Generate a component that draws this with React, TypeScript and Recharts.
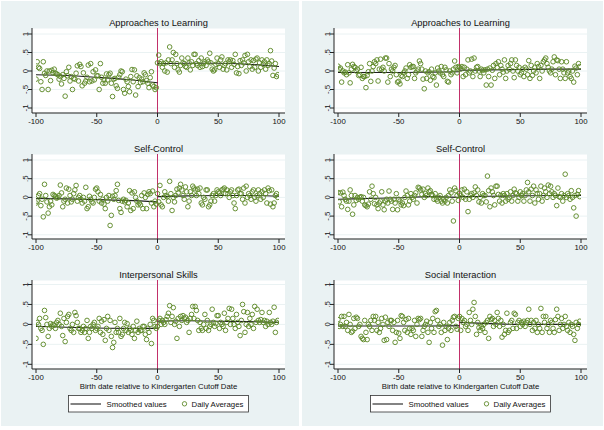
import React from "react";
import {
  ComposedChart,
  Scatter,
  Line,
  XAxis,
  YAxis,
  CartesianGrid,
  ReferenceLine,
} from "recharts";

// days before / after the cutoff
const daysBefore = Array.from({ length: 100 }, (_, i) => i - 100);
const daysAfter = Array.from({ length: 100 }, (_, i) => i);
const smoothDaysBefore = [-100, -75, -50, -25, 0];
const smoothDaysAfter = [0, 25, 50, 75, 100];

const xTicks = [-100, -50, 0, 50, 100];
const yTicks = [-1, -0.5, 0, 0.5, 1];

// left column: Approaches to Learning
const learnALeft = [
  -0.22, 0.25, 0.1, 0.07, -0.29, -0.5, 0.25, -0.06, -0.12, 0.0,
  -0.5, 0.0, -0.26, 0.02, -0.05, 0.05, -0.06, -0.08, -0.1, -0.22,
  -0.15, -0.35, -0.1, -0.2, -0.68, -0.02, -0.13, 0.1, -0.27, -0.15,
  -0.5, -0.2, -0.22, -0.06, 0.14, -0.27, 0.18, 0.12, -0.4, -0.05,
  -0.33, -0.27, -0.17, 0.16, -0.29, 0.2, -0.27, -0.02, -0.24, 0.03,
  -0.13, -0.13, -0.5, 0.2, -0.17, -0.33, -0.24, -0.33, -0.08, -0.24,
  -0.1, -0.06, -0.33, -0.69, -0.22, -0.2, -0.4, -0.47, -0.17, -0.1,
  0.0, -0.02, -0.5, -0.6, -0.22, -0.29, -0.42, -0.56, -0.15, 0.04,
  -0.29, 0.03, -0.65, -0.13, -0.42, -0.18, -0.31, -0.22, -0.29, -0.05,
  -0.1, -0.26, -0.33, -0.45, -0.18, -0.02, -0.38, -0.42, -0.5, -0.45,
];
const learnARight = [
  0.22, 0.43, 0.2, 0.25, 0.1, 0.2, 0.0, 0.22, -0.03, 0.3,
  0.65, 0.2, 0.3, 0.5, 0.1, 0.45, 0.2, 0.03, -0.03, 0.15,
  0.35, 0.22, 0.2, 0.12, 0.1, 0.35, 0.22, 0.03, 0.25, 0.15,
  0.45, 0.45, 0.2, 0.15, 0.28, 0.1, 0.35, 0.12, 0.2, 0.25,
  0.15, 0.3, 0.25, 0.48, 0.22, 0.05, 0.0, 0.03, 0.18, 0.35,
  0.2, 0.1, 0.3, 0.38, 0.05, 0.15, 0.2, 0.03, 0.3, 0.25,
  0.3, 0.1, 0.28, 0.18, 0.45, -0.05, 0.12, -0.07, 0.28, 0.15,
  0.3, 0.22, 0.42, 0.0, 0.45, 0.25, 0.12, 0.3, 0.05, 0.28,
  0.1, 0.32, 0.35, 0.0, 0.22, 0.1, 0.3, 0.18, 0.25, 0.05,
  0.3, 0.15, 0.2, 0.55, 0.27, -0.12, 0.08, 0.2, -0.15, -0.1,
];
const learnASmoothLeft = [-0.1, -0.12, -0.17, -0.23, -0.32];
const learnASmoothRight = [0.2, 0.21, 0.21, 0.18, 0.12];

// right column: Approaches to Learning
const learnBLeft = [
  0.13, 0.05, 0.08, -0.3, 0.0, -0.05, -0.03, -0.1, 0.17, -0.05,
  -0.32, 0.05, 0.18, 0.12, 0.1, 0.0, 0.05, -0.12, -0.1, 0.1,
  -0.2, -0.15, -0.15, -0.45, -0.12, -0.02, 0.2, -0.28, 0.0, 0.12,
  0.25, 0.2, 0.3, -0.27, 0.05, 0.32, 0.05, 0.1, 0.0, 0.35,
  0.35, -0.3, 0.2, -0.15, 0.05, 0.0, 0.1, 0.15, -0.1, -0.3,
  -0.28, -0.35, -0.12, -0.15, -0.05, 0.0, 0.08, -0.2, -0.1, 0.17,
  0.1, 0.12, 0.12, -0.2, -0.05, 0.0, 0.05, 0.27, 0.2, 0.05,
  -0.22, -0.48, 0.0, -0.2, -0.05, -0.02, -0.25, 0.05, -0.15, -0.18,
  -0.05, -0.38, 0.08, 0.0, -0.05, 0.12, -0.1, -0.15, 0.1, 0.03,
  -0.28, -0.3, 0.0, -0.1, -0.05, 0.05, 0.27, 0.1, -0.05, 0.12,
];
const learnBRight = [
  0.1, 0.05, 0.12, -0.15, 0.1, -0.1, 0.05, 0.3, -0.05, 0.0,
  0.32, -0.15, 0.35, 0.0, 0.1, 0.12, 0.0, -0.15, 0.05, 0.02,
  -0.05, 0.03, -0.38, 0.05, -0.15, 0.08, -0.38, 0.02, 0.15, -0.2,
  0.2, 0.1, 0.25, -0.1, 0.15, 0.05, -0.03, 0.3, -0.2, 0.0,
  0.15, 0.05, 0.2, 0.3, 0.0, -0.18, 0.3, 0.15, 0.0, 0.1,
  -0.1, -0.05, 0.05, -0.15, 0.1, 0.05, -0.1, 0.28, -0.2, 0.15,
  -0.12, 0.0, 0.1, -0.05, 0.2, 0.12, -0.2, 0.15, 0.0, 0.25,
  0.3, 0.35, 0.2, 0.1, 0.0, -0.05, 0.05, 0.25, 0.38, -0.1,
  0.3, 0.28, 0.05, -0.2, 0.25, 0.05, -0.05, -0.2, 0.25, -0.05,
  0.0, -0.15, -0.2, 0.0, -0.3, 0.13, 0.08, -0.1, 0.2, 0.12,
];
const learnBSmoothLeft = [-0.04, -0.04, -0.04, -0.03, -0.02];
const learnBSmoothRight = [0.02, 0.03, 0.04, 0.05, 0.05];

// left column: Self-Control
const controlALeft = [
  -0.15, -0.1, 0.05, 0.1, -0.22, -0.05, -0.52, 0.35, 0.05, -0.12,
  -0.42, -0.25, -0.1, -0.2, 0.08, 0.05, 0.03, -0.02, 0.0, 0.05,
  0.33, 0.12, -0.25, -0.1, -0.05, 0.25, -0.15, 0.22, 0.05, -0.12,
  -0.05, 0.1, 0.2, 0.32, -0.1, 0.0, 0.05, -0.05, -0.15, 0.0,
  -0.1, 0.27, -0.3, -0.25, 0.03, -0.05, -0.12, -0.15, 0.0, 0.22,
  0.25, 0.15, -0.1, 0.08, -0.15, -0.05, -0.18, -0.3, 0.0, -0.1,
  0.05, -0.75, -0.48, 0.03, -0.05, 0.05, 0.18, 0.35, -0.08, -0.3,
  -0.4, -0.1, -0.05, -0.12, -0.08, -0.25, -0.15, 0.18, -0.35, 0.12,
  -0.3, 0.15, 0.0, -0.1, -0.2, -0.15, -0.2, 0.05, -0.3, 0.12,
  0.0, -0.3, 0.08, 0.15, 0.1, -0.15, 0.17, -0.25, -0.1, -0.18,
];
const controlARight = [
  0.1, -0.12, 0.32, -0.2, -0.25, 0.0, 0.15, 0.05, 0.02, -0.1,
  0.43, 0.1, -0.35, 0.0, -0.12, 0.05, 0.22, 0.12, 0.25, 0.35,
  0.2, 0.05, -0.05, 0.28, 0.15, -0.25, -0.1, 0.15, 0.05, 0.3,
  0.25, 0.2, 0.05, 0.22, 0.1, 0.25, -0.15, -0.2, 0.0, -0.05,
  0.2, 0.2, -0.25, -0.2, -0.1, 0.05, 0.1, -0.1, 0.05, 0.2,
  0.15, 0.12, 0.05, 0.2, 0.22, 0.25, 0.1, 0.2, 0.1, 0.0,
  0.15, 0.2, 0.05, -0.15, -0.3, 0.05, 0.2, 0.22, 0.1, 0.1,
  -0.05, 0.25, -0.15, 0.3, 0.0, 0.1, 0.05, -0.05, 0.15, 0.2,
  0.0, -0.1, 0.05, 0.2, 0.1, -0.05, 0.15, 0.0, 0.2, 0.1,
  -0.15, 0.25, 0.18, -0.18, 0.2, -0.25, -0.15, 0.05, 0.1, 0.0,
];
const controlASmoothLeft = [-0.03, -0.04, -0.06, -0.08, -0.12];
const controlASmoothRight = [0.02, 0.04, 0.05, 0.05, 0.03];

// right column: Self-Control
const controlBLeft = [
  0.13, -0.12, 0.12, -0.25, 0.14, 0.05, -0.05, -0.1, -0.32, -0.1,
  0.2, 0.05, -0.45, -0.2, 0.05, -0.08, 0.0, -0.05, 0.0, 0.02,
  -0.1, 0.0, -0.2, -0.22, -0.25, -0.18, 0.15, -0.05, 0.3, 0.1,
  -0.17, 0.0, -0.2, -0.3, -0.15, -0.1, 0.15, -0.2, -0.33, -0.1,
  -0.05, -0.15, 0.17, -0.05, -0.1, -0.32, -0.05, -0.15, 0.1, -0.33,
  -0.05, -0.1, -0.2, -0.15, -0.22, 0.0, 0.17, 0.05, -0.2, -0.1,
  0.1, 0.0, -0.05, 0.05, 0.12, -0.15, 0.27, 0.25, 0.2, 0.08,
  0.22, 0.0, 0.1, 0.05, 0.25, 0.15, 0.18, 0.08, 0.05, -0.05,
  0.1, -0.05, -0.1, 0.0, 0.05, -0.1, -0.15, -0.05, -0.1, 0.0,
  -0.15, 0.05, 0.2, 0.12, -0.1, -0.63, 0.25, 0.18, 0.05, -0.08,
];
const controlBRight = [
  0.1, 0.05, 0.2, 0.0, 0.22, -0.05, 0.15, -0.38, -0.05, 0.05,
  0.1, 0.0, 0.12, 0.28, 0.05, 0.2, -0.12, 0.0, -0.15, 0.1,
  0.05, 0.05, -0.12, 0.57, 0.18, -0.25, 0.25, 0.15, 0.05, -0.2,
  0.3, 0.3, 0.08, -0.1, 0.05, -0.15, 0.1, 0.05, -0.1, 0.1,
  -0.05, 0.0, 0.15, -0.1, 0.05, 0.22, 0.12, 0.1, -0.1, 0.0,
  0.15, 0.05, 0.1, -0.1, 0.05, 0.2, 0.4, 0.15, -0.1, 0.22,
  0.05, 0.3, -0.15, 0.2, 0.1, -0.05, 0.1, 0.3, -0.1, 0.05,
  0.25, 0.15, 0.0, 0.33, 0.1, 0.3, 0.15, 0.0, 0.1, 0.05,
  -0.22, 0.25, 0.02, 0.0, 0.1, -0.1, 0.05, 0.62, 0.0, 0.1,
  0.05, -0.05, 0.18, 0.0, -0.28, 0.05, -0.5, 0.08, 0.18, 0.02,
];
const controlBSmoothLeft = [-0.05, -0.03, -0.01, 0.02, 0.0];
const controlBSmoothRight = [0.02, 0.03, 0.04, 0.05, 0.05];

// left column: Interpersonal Skills
const interLeft = [
  -0.35, 0.05, 0.0, 0.15, -0.1, -0.15, -0.5, 0.35, 0.17, 0.0,
  -0.3, -0.1, 0.02, -0.05, 0.0, -0.02, -0.1, 0.05, 0.1, 0.0,
  0.28, -0.05, -0.28, 0.15, -0.43, 0.05, 0.2, 0.25, -0.1, -0.15,
  0.0, -0.2, 0.3, 0.22, 0.05, -0.1, -0.1, -0.2, -0.15, -0.05,
  -0.2, -0.1, 0.1, -0.35, -0.2, -0.05, -0.1, 0.0, 0.05, -0.15,
  -0.1, -0.05, 0.15, -0.2, 0.08, -0.25, 0.12, -0.4, -0.1, 0.2,
  -0.15, 0.1, -0.3, -0.58, -0.45, 0.05, -0.2, -0.1, -0.2, 0.15,
  -0.3, -0.25, -0.1, 0.05, -0.15, 0.02, -0.2, -0.1, -0.15, -0.25,
  -0.05, -0.35, -0.15, 0.08, -0.2, -0.1, -0.15, -0.15, -0.05, -0.05,
  -0.25, -0.38, -0.1, -0.2, 0.0, -0.48, 0.15, 0.1, -0.05, -0.1,
];
const interRight = [
  -0.05, 0.1, 0.15, 0.0, 0.1, 0.05, 0.0, 0.12, 0.2, 0.28,
  0.47, 0.05, 0.2, 0.42, 0.0, 0.08, -0.35, 0.15, -0.05, 0.2,
  0.1, 0.22, 0.15, 0.18, 0.05, 0.1, -0.2, 0.15, 0.25, 0.45,
  0.15, 0.45, 0.35, 0.1, -0.15, 0.05, -0.1, -0.15, 0.0, 0.25,
  -0.1, 0.1, -0.15, -0.05, 0.0, 0.38, 0.05, -0.05, 0.02, 0.22,
  0.22, -0.1, 0.05, 0.0, -0.05, 0.28, -0.15, 0.05, 0.15, 0.4,
  0.0, 0.38, 0.15, 0.0, -0.1, 0.25, 0.05, -0.05, -0.28, 0.1,
  0.5, 0.32, -0.2, 0.0, 0.3, -0.05, 0.15, 0.0, 0.25, -0.1,
  0.45, 0.05, 0.38, 0.1, 0.05, 0.12, 0.3, 0.05, 0.1, -0.05,
  0.08, 0.0, 0.3, 0.05, 0.0, 0.08, 0.43, -0.2, 0.05, 0.1,
];
const interSmoothLeft = [-0.05, -0.07, -0.09, -0.1, -0.1];
const interSmoothRight = [0.08, 0.09, 0.08, 0.07, 0.05];

// right column: Social Interaction
const socialLeft = [
  0.12, -0.05, 0.0, 0.2, -0.05, 0.2, -0.05, 0.05, -0.15, 0.25,
  0.0, -0.2, -0.17, 0.15, -0.1, 0.18, 0.15, -0.05, 0.0, -0.3,
  -0.35, -0.38, 0.1, -0.2, -0.38, 0.0, -0.05, 0.1, -0.15, 0.2,
  0.1, 0.2, -0.15, 0.05, -0.2, -0.1, 0.15, 0.0, -0.4, 0.18,
  -0.38, 0.05, -0.05, 0.1, 0.1, -0.15, 0.05, -0.45, -0.2, 0.1,
  -0.22, -0.35, 0.22, 0.2, 0.05, -0.15, 0.12, -0.2, 0.15, -0.1,
  -0.25, -0.1, -0.15, 0.1, -0.3, 0.0, 0.15, 0.12, 0.15, -0.3,
  -0.15, -0.05, 0.0, 0.08, -0.2, -0.45, 0.05, -0.1, 0.15, -0.2,
  0.32, 0.35, 0.1, -0.05, 0.0, -0.2, -0.52, 0.05, -0.15, -0.05,
  -0.38, -0.1, 0.05, -0.15, 0.1, 0.18, 0.2, -0.05, -0.12, 0.15,
];
const socialRight = [
  0.2, -0.15, 0.15, 0.05, 0.1, -0.05, 0.0, -0.15, 0.3, 0.1,
  0.0, 0.38, 0.55, 0.2, -0.25, 0.05, -0.08, -0.15, -0.05, -0.1,
  0.0, -0.2, 0.05, 0.1, -0.35, 0.2, 0.12, 0.15, -0.05, 0.1,
  0.0, 0.3, 0.15, -0.05, 0.1, -0.32, 0.0, -0.25, -0.15, 0.28,
  -0.2, -0.15, 0.05, 0.1, -0.1, 0.28, 0.25, -0.1, 0.05, 0.1,
  -0.05, 0.05, 0.0, 0.08, -0.05, 0.05, 0.1, 0.38, 0.0, 0.1,
  -0.15, 0.05, -0.1, 0.1, -0.2, 0.0, -0.1, 0.4, -0.2, 0.2,
  0.05, 0.2, -0.1, 0.0, -0.2, 0.1, 0.05, -0.1, -0.2, 0.12,
  0.38, 0.2, -0.15, 0.0, 0.15, -0.1, 0.0, 0.2, -0.05, -0.15,
  0.05, -0.2, 0.0, -0.05, -0.25, -0.4, 0.05, -0.1, 0.0, 0.08,
];
const socialSmoothLeft = [-0.04, -0.04, -0.04, -0.04, -0.03];
const socialSmoothRight = [0.05, 0.02, 0.0, 0.0, 0.0];

const BG = "#eaf2f3";
const GREEN = "#5f8a2a";
const FONT = "'Liberation Sans', Arial, sans-serif";

const toPoints = (xs: number[], ys: number[]) => xs.map((x, i) => ({ x, y: ys[i] }));

const fmtY = (v: number) => String(v).replace("0.", ".");

const YTick = (props: any) => {
  const { x, y, payload } = props;
  return (
    <text
      x={x}
      y={y}
      transform={`rotate(-90, ${x}, ${y})`}
      textAnchor="middle"
      fontSize={7.8}
      fontFamily={FONT}
      fill="#111"
    >
      {fmtY(payload.value)}
    </text>
  );
};

const Hollow = (props: any) => (
  <circle cx={props.cx} cy={props.cy} r={2.3} fill="none" stroke={GREEN} strokeWidth={0.95} />
);

type PanelProps = {
  colX: number;
  title: string;
  top: number;
  plotH: number;
  padTop: number;
  padBottom: number;
  before: number[];
  after: number[];
  smoothBefore: number[];
  smoothAfter: number[];
};

function Panel(p: PanelProps) {
  const dotsBefore = toPoints(daysBefore, p.before);
  const dotsAfter = toPoints(daysAfter, p.after);
  const lineBefore = toPoints(smoothDaysBefore, p.smoothBefore);
  const lineAfter = toPoints(smoothDaysAfter, p.smoothAfter);
  return (
    <>
      <div
        style={{
          position: "absolute",
          left: p.colX + 32,
          width: 253,
          top: p.top - 11,
          height: 12,
          lineHeight: "12px",
          textAlign: "center",
          fontSize: 9.3,
          fontFamily: FONT,
          color: "#111",
        }}
      >
        {p.title}
      </div>
      <div style={{ position: "absolute", left: p.colX, top: p.top }}>
        <ComposedChart
          width={299}
          height={p.plotH + 16}
          margin={{ top: 0, right: 14, bottom: 0, left: 0 }}
        >
          <CartesianGrid vertical={false} stroke={BG} fill="#fff" />
          <XAxis
            type="number"
            dataKey="x"
            domain={[-100, 100]}
            ticks={xTicks}
            interval={0}
            allowDataOverflow
            padding={{ left: 4, right: 6 }}
            height={16}
            tickSize={4}
            tickMargin={1}
            tick={{ fontSize: 7.8, fontFamily: FONT, fill: "#111" }}
            axisLine={{ stroke: "#222" }}
            tickLine={{ stroke: "#222" }}
          />
          <YAxis
            type="number"
            dataKey="y"
            domain={[-1, 1]}
            ticks={yTicks}
            interval={0}
            allowDataOverflow
            padding={{ top: p.padTop, bottom: p.padBottom }}
            width={32}
            tickSize={4}
            tickMargin={0}
            tick={<YTick />}
            axisLine={{ stroke: "#222" }}
            tickLine={{ stroke: "#222" }}
          />
          <ReferenceLine x={0} stroke="#c2306a" strokeWidth={1} />
          <Scatter data={dotsBefore} shape={<Hollow />} isAnimationActive={false} />
          <Scatter data={dotsAfter} shape={<Hollow />} isAnimationActive={false} />
          <Line
            data={lineBefore}
            dataKey="y"
            type="monotone"
            stroke="#1e1e1e"
            strokeWidth={1.1}
            dot={false}
            activeDot={false}
            isAnimationActive={false}
          />
          <Line
            data={lineAfter}
            dataKey="y"
            type="monotone"
            stroke="#1e1e1e"
            strokeWidth={1.1}
            dot={false}
            activeDot={false}
            isAnimationActive={false}
          />
        </ComposedChart>
      </div>
    </>
  );
}

function Footer({ colX }: { colX: number }) {
  return (
    <>
      <div
        style={{
          position: "absolute",
          left: colX + 32,
          width: 253,
          top: 380.5,
          height: 12,
          lineHeight: "12px",
          textAlign: "center",
          fontSize: 7.8,
          fontFamily: FONT,
          color: "#111",
        }}
      >
        Birth date relative to Kindergarten Cutoff Date
      </div>
      <svg
        width={181}
        height={18}
        style={{ position: "absolute", left: colX + 67.5, top: 394.5 }}
      >
        <rect x={0.5} y={0.5} width={180} height={16.5} fill="#fff" stroke="#333" strokeWidth={0.8} />
        <line x1={2.5} x2={33} y1={9} y2={9} stroke="#1e1e1e" strokeWidth={1.1} />
        <text x={38.5} y={11.8} fontSize={7.8} fontFamily={FONT} fill="#111">
          Smoothed values
        </text>
        <circle cx={116.5} cy={8.8} r={2.2} fill="none" stroke={GREEN} strokeWidth={0.9} />
        <text x={123.5} y={11.8} fontSize={7.8} fontFamily={FONT} fill="#111">
          Daily Averages
        </text>
      </svg>
    </>
  );
}

export default function App() {
  return (
    <div
      style={{
        position: "absolute",
        left: 0,
        top: 0,
        width: 604,
        height: 430,
        background: "#fff",
        overflow: "hidden",
      }}
    >
      <div style={{ position: "absolute", left: 1, top: 1, width: 298, height: 425, background: BG }} />
      <div style={{ position: "absolute", left: 302, top: 1, width: 301, height: 425, background: BG }} />

      <Panel colX={0} title="Approaches to Learning" top={28} plotH={85} padTop={6} padBottom={5}
        before={learnALeft} after={learnARight} smoothBefore={learnASmoothLeft} smoothAfter={learnASmoothRight} />
      <Panel colX={0} title="Self-Control" top={153.5} plotH={85} padTop={6} padBottom={4.2}
        before={controlALeft} after={controlARight} smoothBefore={controlASmoothLeft} smoothAfter={controlASmoothRight} />
      <Panel colX={0} title="Interpersonal Skills" top={280} plotH={89} padTop={4.5} padBottom={4.7}
        before={interLeft} after={interRight} smoothBefore={interSmoothLeft} smoothAfter={interSmoothRight} />
      <Footer colX={0} />

      <Panel colX={302} title="Approaches to Learning" top={28} plotH={85} padTop={6} padBottom={5}
        before={learnBLeft} after={learnBRight} smoothBefore={learnBSmoothLeft} smoothAfter={learnBSmoothRight} />
      <Panel colX={302} title="Self-Control" top={153.5} plotH={85} padTop={6} padBottom={4.2}
        before={controlBLeft} after={controlBRight} smoothBefore={controlBSmoothLeft} smoothAfter={controlBSmoothRight} />
      <Panel colX={302} title="Social Interaction" top={280} plotH={89} padTop={4.5} padBottom={4.7}
        before={socialLeft} after={socialRight} smoothBefore={socialSmoothLeft} smoothAfter={socialSmoothRight} />
      <Footer colX={302} />
    </div>
  );
}
